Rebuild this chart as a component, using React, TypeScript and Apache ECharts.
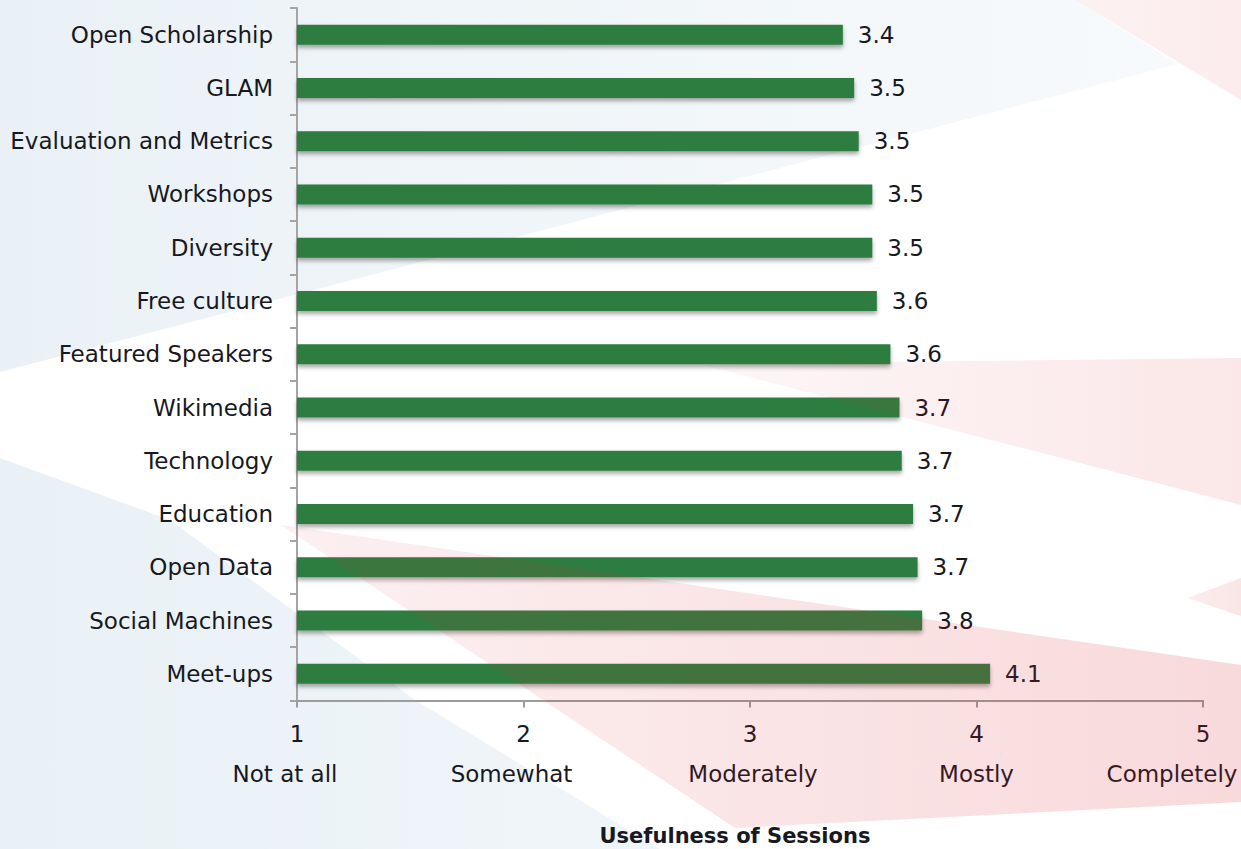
import React, { useEffect, useRef } from "react";
import * as echarts from "echarts";

const categories = [
  "Open Scholarship",
  "GLAM",
  "Evaluation and Metrics",
  "Workshops",
  "Diversity",
  "Free culture",
  "Featured Speakers",
  "Wikimedia",
  "Technology",
  "Education",
  "Open Data",
  "Social Machines",
  "Meet-ups",
];
const values = [3.41, 3.46, 3.48, 3.54, 3.54, 3.56, 3.62, 3.66, 3.67, 3.72, 3.74, 3.76, 4.06];
const tickValues = [1, 2, 3, 4, 5];
const tickWords = ["Not at all", "Somewhat", "Moderately", "Mostly", "Completely"];
const axisTitle = "Usefulness of Sessions";

const FONT = "DejaVu Sans";
const TEXT = "#18181f";

export default function App() {
  const ref = useRef<HTMLDivElement>(null);

  useEffect(() => {
    if (!ref.current) return;
    const chart = echarts.init(ref.current, null, { renderer: "svg" });

    const pinkGrad = (a0: number, a1: number) => ({
      type: "linear",
      x: 0,
      y: 0,
      x2: 1,
      y2: 0,
      colorStops: [
        { offset: 0, color: `rgba(215,35,45,${a0})` },
        { offset: 1, color: `rgba(215,35,45,${a1})` },
      ],
    });
    const blueGrad = (c0: string, c1: string) => ({
      type: "linear",
      x: 0,
      y: 0,
      x2: 1,
      y2: 0,
      colorStops: [
        { offset: 0, color: c0 },
        { offset: 1, color: c1 },
      ],
    });

    const base = { fontSize: 23, lineHeight: 40, color: TEXT, fontFamily: FONT };
    const wordRich: any = {
      n: { ...base },
      w0: { ...base, padding: [0, 24, 0, 0] },
      w1: { ...base, padding: [0, 24, 0, 0] },
      w2: { ...base, padding: [0, 0, 0, 6] },
      w3: { ...base },
      w4: { ...base, padding: [0, 62, 0, 0] },
    };

    chart.setOption({
      animation: false,
      backgroundColor: "#ffffff",
      textStyle: { fontFamily: FONT },
      grid: {
        left: 297,
        right: 38,
        top: 8,
        bottom: 148.5,
        containLabel: false,
        outerBoundsMode: "none",
      },
      xAxis: {
        type: "value",
        min: 1,
        max: 5,
        interval: 1,
        splitLine: { show: false },
        axisLine: { show: true, lineStyle: { color: "#9c9c9c", width: 2 } },
        axisTick: { show: true, length: 7, lineStyle: { color: "#9c9c9c", width: 2 } },
        axisLabel: {
          margin: 13,
          formatter: (v: number) => {
            const i = tickValues.indexOf(v);
            return `{n|${v}}\n{w${i}|${tickWords[i]}}`;
          },
          rich: wordRich,
        },
      },
      yAxis: {
        type: "category",
        inverse: true,
        data: categories,
        axisLine: { show: true, lineStyle: { color: "#a4a4a4", width: 2 } },
        axisTick: { show: true, length: 7, lineStyle: { color: "#a4a4a4", width: 2 } },
        axisLabel: {
          margin: 24,
          fontSize: 23,
          fontFamily: FONT,
          color: TEXT,
        },
      },
      series: [
        {
          type: "bar",
          data: values,
          barWidth: 20,
          z: 2,
          itemStyle: {
            color: "#2f7d3f",
            shadowColor: "rgba(0,0,0,0.35)",
            shadowBlur: 4,
            shadowOffsetY: 3,
          },
          label: {
            show: true,
            position: "right",
            distance: 15,
            fontSize: 23,
            fontFamily: FONT,
            color: TEXT,
            formatter: (p: any) => Number(p.value).toFixed(1),
          },
        },
      ],
      graphic: [
        {
          type: "polygon",
          silent: true,
          z: -10,
          shape: { points: [[0, 0], [1075, 0], [1178, 64], [0, 372]] },
          style: { fill: blueGrad("#eaf1f6", "#f7fafc") },
        },
        {
          type: "polygon",
          silent: true,
          z: -10,
          shape: { points: [[0, 458], [170, 520], [415, 700], [660, 849], [0, 849]] },
          style: { fill: blueGrad("#e9f1f6", "#f0f5f9") },
        },
        {
          type: "polygon",
          silent: true,
          z: 10,
          shape: { points: [[1075, 0], [1241, 0], [1241, 100]] },
          style: { fill: pinkGrad(0.06, 0.09) },
        },
        {
          type: "polygon",
          silent: true,
          z: 10,
          shape: { points: [[700, 364], [1241, 358], [1241, 505]] },
          style: { fill: pinkGrad(0.04, 0.11) },
        },
        {
          type: "polygon",
          silent: true,
          z: 10,
          shape: { points: [[1187, 598], [1241, 578], [1241, 616]] },
          style: { fill: pinkGrad(0.08, 0.12) },
        },
        {
          type: "polygon",
          silent: true,
          z: 10,
          shape: { points: [[281, 525], [1241, 665], [1241, 802], [735, 828]] },
          style: { fill: pinkGrad(0.07, 0.17) },
        },
        {
          type: "text",
          silent: true,
          z: 20,
          x: 735,
          y: 836,
          style: {
            text: axisTitle,
            fontFamily: FONT,
            fontWeight: "bold",
            fontSize: 21,
            fill: TEXT,
            align: "center",
            verticalAlign: "middle",
          },
        },
      ],
    });

    return () => chart.dispose();
  }, []);

  return (
    <div
      ref={ref}
      style={{ position: "fixed", left: 0, top: 0, width: 1241, height: 849 }}
    />
  );
}
